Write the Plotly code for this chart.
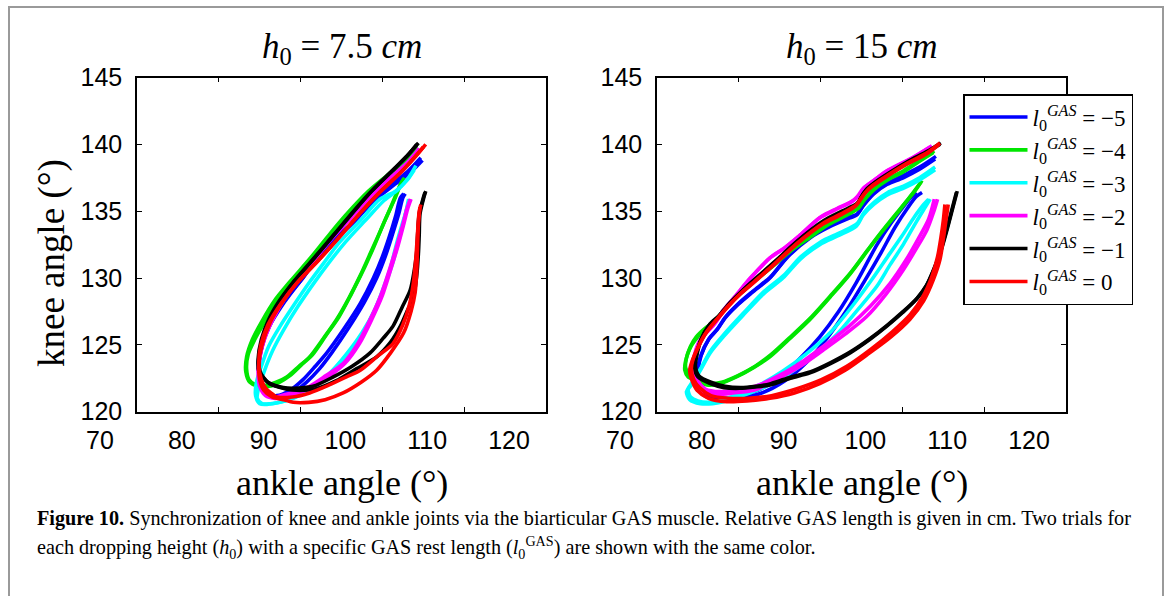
import plotly.graph_objects as go

# ---------------- data (ankle angle, knee angle) ----------------
# h0 = 7.5 cm panel
H75_BLUE_T1 = [(104.9,138.8),(103.6,138.0),(101.5,137.0),(99.0,135.8),(96.5,134.2),(93.2,132.5),(90.3,130.0),(88.0,128.3),(86.4,126.7),(85.4,125.2),(84.9,123.5),(85.0,122.2),(85.6,121.4),(87.1,121.2),(88.7,121.6),(90.3,122.4),(91.8,123.4),(93.2,124.4),(95.3,126.2),(97.3,128.1),(98.9,130.0),(100.0,131.6),(100.8,133.0),(101.6,134.6),(102.2,136.0),(102.6,136.3)]
H75_BLUE_T2 = [(104.7,139.0),(103.3,138.1),(101.2,137.0),(98.7,135.7),(96.2,134.0),(93.0,132.2),(90.0,129.8),(87.8,128.0),(86.2,126.4),(85.3,124.9),(84.9,123.3),(85.2,122.0),(85.9,121.3),(87.4,121.1),(89.0,121.4),(90.7,122.2),(92.3,123.2),(93.8,124.4),(95.8,126.2),(97.8,128.2),(99.3,130.0),(100.4,131.7),(101.2,133.2),(102.0,134.8),(102.5,136.0),(102.8,136.3)]
H75_GREEN_T1 = [(104.4,139.7),(103.0,138.8),(101.0,137.7),(98.5,136.4),(96.0,134.8),(94.0,133.3),(91.5,131.3),(89.1,129.7),(87.1,128.2),(85.6,126.7),(84.4,125.4),(83.6,124.3),(83.4,123.2),(83.7,122.4),(84.6,122.0),(85.9,122.0),(87.0,122.2),(88.3,122.6),(89.8,123.4),(91.1,124.1),(92.8,125.5),(94.4,126.9),(95.9,128.5),(97.3,130.2),(98.7,132.1),(100.1,134.0),(101.3,135.7),(102.2,137.0),(102.6,137.4)]
H75_GREEN_T2 = [(104.2,139.9),(102.8,138.9),(100.8,137.8),(98.3,136.5),(95.8,134.9),(93.7,133.4),(91.2,131.5),(88.8,129.8),(86.8,128.3),(85.3,126.8),(84.1,125.4),(83.4,124.1),(83.3,123.0),(83.8,122.2),(84.9,121.9),(86.2,121.9),(87.4,122.2),(88.7,122.7),(90.1,123.5),(91.5,124.3),(93.1,125.7),(94.7,127.1),(96.2,128.8),(97.6,130.5),(99.0,132.4),(100.3,134.3),(101.5,135.9),(102.3,137.1),(102.7,137.5)]
H75_CYAN_T1 = [(103.9,138.1),(103.0,137.3),(101.6,136.5),(99.7,135.9),(97.3,134.3),(94.8,132.7),(92.8,131.1),(91.1,129.7),(89.2,128.0),(87.5,126.4),(86.1,124.9),(85.2,123.4),(84.6,122.2),(84.5,121.2),(85.0,120.6),(85.9,120.55),(87.5,120.7),(89.1,121.0),(91.2,121.7),(93.2,122.6),(95.3,124.0),(97.3,125.6),(99.0,127.5),(100.1,129.2),(101.0,130.8),(101.7,132.5),(102.4,134.0),(103.0,135.2),(103.3,135.9)]
H75_CYAN_T2 = [(104.1,138.4),(103.2,137.5),(101.9,136.6),(100.2,135.8),(97.9,134.3),(95.5,132.7),(93.4,131.1),(91.6,129.6),(89.7,127.9),(88.0,126.2),(86.6,124.6),(85.6,123.1),(84.9,121.8),(84.7,121.0),(85.3,120.6),(86.3,120.6),(88.0,120.8),(89.7,121.2),(91.7,121.9),(93.6,122.9),(95.6,124.3),(97.5,125.9),(99.2,127.8),(100.4,129.6),(101.3,131.2),(102.0,132.8),(102.6,134.2),(103.0,135.3),(103.2,135.9)]
H75_MAGENTA_T1 = [(104.5,139.7),(103.2,138.7),(101.0,137.5),(98.6,136.1),(96.0,134.4),(93.6,132.8),(91.2,131.0),(89.0,129.3),(87.3,127.7),(86.0,126.1),(85.2,124.6),(84.9,123.2),(85.1,122.0),(85.8,121.3),(87.0,121.1),(87.9,121.25),(89.5,121.5),(91.1,121.9),(93.1,122.7),(95.2,123.6),(97.0,125.1),(98.5,126.9),(99.8,128.7),(100.8,130.5),(101.7,132.3),(102.5,134.0),(103.0,135.2),(103.4,135.9)]
H75_MAGENTA_T2 = [(104.3,139.5),(103.0,138.6),(100.8,137.4),(98.4,136.0),(95.8,134.3),(93.4,132.7),(91.0,130.9),(88.8,129.2),(87.1,127.6),(85.8,126.0),(85.0,124.5),(84.8,123.1),(85.0,121.9),(85.7,121.2),(86.9,121.0),(88.0,121.1),(89.7,121.4),(91.4,121.8),(93.4,122.6),(95.4,123.6),(97.2,125.1),(98.7,126.9),(100.0,128.7),(101.0,130.6),(101.9,132.4),(102.6,134.0),(103.1,135.2),(103.5,135.9)]
H75_BLACK_T1 = [(104.2,140.0),(103.0,139.1),(101.2,138.0),(98.5,136.4),(96.2,134.8),(94.0,133.2),(91.5,131.4),(89.1,129.7),(87.4,128.3),(86.1,126.9),(85.2,125.4),(84.8,123.9),(84.9,123.0),(85.4,122.6),(86.0,122.2),(86.7,122.0),(87.9,121.8),(89.1,121.75),(91.5,121.9),(94.0,122.6),(96.3,123.4),(98.5,124.4),(100.1,125.5),(101.3,126.4),(102.4,127.8),(103.4,129.1),(103.9,130.6),(104.2,132.0),(104.3,133.2),(104.5,134.8),(105.0,136.0),(105.2,136.4)]
H75_BLACK_T2 = [(104.4,140.1),(103.1,139.2),(101.3,138.1),(98.7,136.5),(96.4,134.9),(94.2,133.3),(91.7,131.5),(89.3,129.8),(87.6,128.4),(86.3,127.0),(85.4,125.5),(84.9,124.0),(85.0,123.1),(85.5,122.5),(86.2,122.1),(87.0,121.9),(88.2,121.7),(89.5,121.6),(91.8,121.7),(94.3,122.3),(96.8,123.2),(99.3,124.1),(101.0,125.2),(102.2,126.4),(103.0,127.5),(103.8,128.6),(104.2,130.2),(104.4,131.8),(104.5,133.2),(104.6,134.8),(105.1,136.1),(105.3,136.5)]
H75_RED_T1 = [(105.3,140.0),(104.2,139.2),(102.4,138.0),(99.8,136.5),(97.2,134.8),(94.8,133.1),(92.3,131.4),(89.8,129.8),(87.9,128.3),(86.3,126.7),(85.3,125.0),(84.9,123.6),(85.0,122.4),(85.5,121.6),(86.5,121.1),(87.9,120.9),(89.1,120.7),(91.0,120.7),(93.0,120.9),(95.2,121.4),(97.4,122.2),(99.3,123.1),(101.0,124.4),(102.6,125.9),(103.5,127.5),(104.0,128.9),(104.2,130.6),(104.3,132.3),(104.4,134.0),(104.6,135.3)]
H75_RED_T2 = [(105.0,139.8),(103.9,139.0),(102.1,137.8),(99.5,136.3),(96.9,134.6),(94.5,132.9),(92.0,131.2),(89.5,129.6),(87.6,128.1),(86.0,126.5),(85.1,124.9),(84.9,123.5),(85.2,122.4),(85.8,121.7),(86.6,121.3),(87.1,121.1),(89.0,121.1),(91.1,121.4),(93.5,122.0),(95.6,122.6),(97.3,123.1),(99.5,124.2),(101.3,125.1),(102.5,126.5),(103.3,128.0),(103.8,129.7),(104.1,131.6),(104.3,133.4),(104.5,135.0),(104.7,135.5)]

# h0 = 15 cm panel
H15_BLUE_T1 = [(104.0,138.9),(102.0,138.1),(100.1,137.5),(98.1,137.0),(96.5,136.3),(95.2,135.4),(94.4,134.7),(93.6,134.5),(91.0,133.8),(88.7,133.0),(86.0,131.6),(83.8,130.0),(81.6,128.9),(79.7,127.9),(78.3,127.0),(77.3,126.1),(76.3,125.4),(75.3,124.1),(74.9,122.9),(74.9,122.1),(75.5,121.5),(76.5,121.1),(78.0,121.0),(79.7,121.1),(82.3,121.6),(85.0,122.6),(87.5,124.0),(89.9,125.6),(92.2,127.5),(94.4,129.7),(96.9,132.5),(98.6,134.1),(100.2,135.4),(101.0,136.0),(101.7,136.4)]
H15_BLUE_T2 = [(104.1,139.1),(102.1,138.3),(100.2,137.7),(98.2,137.1),(96.6,136.4),(95.3,135.5),(94.5,134.8),(93.7,134.6),(91.1,133.9),(88.8,133.1),(86.1,131.7),(83.9,130.1),(81.7,129.0),(79.8,128.0),(78.4,127.1),(77.4,126.2),(76.4,125.5),(75.4,124.2),(75.0,123.0),(75.0,122.0),(75.6,121.3),(76.7,121.0),(78.3,120.9),(80.0,121.0),(82.8,121.4),(85.6,122.3),(88.3,123.7),(90.8,125.5),(93.2,127.6),(95.4,129.8),(97.4,131.9),(99.1,133.8),(100.7,135.3),(101.7,136.1),(102.4,136.4)]
H15_GREEN_T1 = [(103.8,139.4),(102.0,138.7),(100.0,137.9),(98.1,137.3),(96.5,136.6),(95.3,135.8),(94.6,135.2),(93.5,134.8),(91.0,134.0),(88.6,133.0),(86.3,132.0),(84.0,130.8),(81.8,129.7),(79.8,128.6),(78.3,127.7),(77.0,126.7),(75.7,126.0),(74.6,125.3),(74.0,124.7),(73.5,123.8),(73.4,123.1),(73.8,122.6),(75.0,122.3),(76.1,122.0),(77.7,122.1),(79.7,122.6),(81.8,123.3),(83.8,124.1),(86.3,125.5),(88.7,126.9),(91.2,128.6),(93.6,130.3),(95.8,132.1),(97.7,133.6),(99.7,135.1),(101.2,136.3),(102.3,137.2)]
H15_GREEN_T2 = [(103.9,139.5),(102.1,138.8),(100.1,138.0),(98.2,137.4),(96.6,136.7),(95.4,135.9),(94.7,135.3),(93.6,134.9),(91.1,134.1),(88.7,133.1),(86.4,132.1),(84.1,130.9),(81.9,129.8),(79.9,128.7),(78.4,127.8),(77.1,126.8),(75.8,126.2),(74.8,125.6),(74.1,124.9),(73.6,124.0),(73.5,123.3),(74.0,122.7),(75.1,122.4),(76.3,122.1),(77.9,122.2),(79.9,122.7),(82.0,123.4),(84.0,124.3),(86.5,125.7),(88.9,127.1),(91.4,128.8),(93.8,130.5),(96.0,132.3),(97.9,133.8),(99.9,135.3),(101.4,136.4),(102.4,137.3)]
H15_CYAN_T1 = [(104.0,138.1),(102.0,137.3),(100.1,136.7),(98.1,136.2),(96.5,135.5),(95.2,134.7),(94.4,133.9),(92.3,133.2),(89.9,132.5),(87.5,131.4),(85.4,130.0),(83.0,128.8),(80.5,127.2),(78.1,125.6),(76.5,124.4),(75.3,123.1),(74.2,122.0),(73.6,121.5),(74.0,120.9),(75.3,120.6),(76.8,120.6),(78.1,120.75),(80.5,121.2),(82.6,121.7),(85.5,122.6),(88.5,123.9),(92.0,125.8),(94.5,127.6),(96.9,129.4),(98.5,131.0),(100.1,132.5),(101.7,134.2),(102.8,135.3),(103.4,135.9)]
H15_CYAN_T2 = [(104.0,138.3),(102.1,137.5),(100.2,136.9),(98.2,136.4),(96.6,135.7),(95.3,134.9),(94.5,134.1),(92.4,133.4),(90.0,132.7),(87.6,131.6),(85.5,130.2),(83.1,129.0),(80.6,127.4),(78.2,125.8),(76.6,124.6),(75.4,123.3),(74.3,122.2),(73.8,121.7),(74.1,121.1),(75.0,120.8),(76.5,120.7),(78.0,120.9),(80.3,121.4),(82.5,122.0),(85.3,123.0),(88.2,124.3),(91.3,126.0),(94.0,128.0),(96.4,130.0),(98.2,131.6),(99.9,133.1),(101.5,134.6),(102.6,135.5),(103.2,135.9)]
H15_MAGENTA_T1 = [(103.4,139.8),(101.0,138.9),(98.1,138.0),(96.3,137.2),(95.2,136.7),(94.5,136.1),(93.8,135.7),(91.8,135.1),(89.9,134.5),(87.1,133.0),(85.5,132.2),(83.8,131.5),(81.4,130.0),(79.5,128.6),(78.1,127.6),(76.9,126.5),(75.3,125.4),(74.6,124.3),(74.4,123.1),(74.8,122.2),(75.7,121.5),(77.5,121.3),(79.3,121.4),(81.8,121.6),(84.6,122.4),(87.5,123.4),(90.3,124.6),(93.0,125.8),(95.6,127.1),(98.0,128.8),(100.1,130.6),(101.7,132.2),(103.0,133.6),(103.8,134.9),(104.3,135.9)]
H15_MAGENTA_T2 = [(103.6,139.9),(101.2,139.0),(98.3,138.1),(96.5,137.3),(95.4,136.8),(94.7,136.2),(94.0,135.8),(92.0,135.2),(90.1,134.6),(87.3,133.1),(85.7,132.3),(84.0,131.6),(81.6,130.1),(79.7,128.7),(78.3,127.7),(77.1,126.6),(75.5,125.5),(74.8,124.4),(74.6,123.2),(75.0,122.3),(75.9,121.7),(77.7,121.5),(79.5,121.6),(82.0,121.9),(84.9,122.7),(87.9,123.8),(90.8,125.1),(93.5,126.4),(96.1,127.9),(98.5,129.6),(100.5,131.4),(102.0,133.0),(103.2,134.4),(103.9,135.9)]
H15_BLACK_T1 = [(104.6,140.0),(103.0,139.4),(100.5,138.6),(98.1,137.7),(96.4,137.0),(95.6,136.6),(95.0,136.1),(94.4,135.5),(92.5,134.9),(90.3,134.2),(87.1,132.7),(84.6,131.3),(82.2,130.0),(80.4,129.0),(78.9,128.1),(77.5,127.1),(76.3,126.4),(75.3,125.3),(74.8,124.2),(74.6,123.3),(75.0,122.6),(76.5,122.1),(78.2,121.8),(80.1,121.75),(82.0,121.85),(83.8,122.0),(86.3,122.5),(88.7,122.9),(91.2,123.6),(93.6,124.4),(96.0,125.4),(98.1,126.4),(100.0,127.4),(101.7,128.4),(102.9,129.4),(103.8,130.6),(104.6,131.9),(105.4,133.6),(106.0,135.0),(106.6,136.4)]
H15_BLACK_T2 = [(104.7,140.1),(103.1,139.5),(100.6,138.7),(98.2,137.8),(96.5,137.1),(95.7,136.7),(95.1,136.2),(94.5,135.6),(92.6,135.0),(90.4,134.3),(87.2,132.8),(84.7,131.4),(82.3,130.1),(80.5,129.1),(79.0,128.2),(77.6,127.2),(76.4,126.5),(75.4,125.4),(74.9,124.3),(74.7,123.4),(75.1,122.7),(76.6,122.2),(78.3,121.9),(80.2,121.8),(82.1,121.9),(83.9,122.1),(86.4,122.6),(88.8,123.0),(91.3,123.7),(93.7,124.5),(96.1,125.5),(98.2,126.5),(100.1,127.5),(101.8,128.5),(103.0,129.5),(103.9,130.7),(104.7,132.0),(105.5,133.7),(106.1,135.1),(106.7,136.5)]
H15_RED_T1 = [(104.5,140.0),(103.0,139.3),(100.5,138.5),(98.1,137.6),(96.4,136.9),(95.5,136.4),(94.9,135.9),(94.3,135.4),(92.4,134.7),(90.2,134.0),(87.0,132.5),(84.5,131.1),(82.1,129.8),(80.2,128.8),(78.6,127.8),(77.2,126.8),(76.0,125.9),(75.0,124.8),(74.3,123.8),(74.0,123.1),(74.3,122.3),(74.9,121.6),(76.3,121.0),(78.5,120.75),(81.0,120.8),(83.8,121.0),(86.8,121.4),(89.9,122.1),(93.0,123.1),(96.0,124.4),(98.6,125.6),(100.9,126.9),(102.6,128.3),(103.8,129.9),(104.6,131.4),(105.0,132.9),(105.3,134.2),(105.6,135.5)]
H15_RED_T2 = [(104.6,140.1),(103.1,139.4),(100.6,138.6),(98.2,137.7),(96.5,137.0),(95.6,136.5),(95.0,136.0),(94.4,135.5),(92.5,134.8),(90.3,134.1),(87.1,132.6),(84.6,131.2),(82.2,129.9),(80.3,128.9),(78.7,127.9),(77.3,126.9),(76.1,126.0),(75.1,124.9),(74.4,123.9),(74.2,123.2),(74.5,122.4),(75.2,121.8),(76.6,121.2),(78.7,121.0),(81.2,121.0),(84.0,121.2),(87.0,121.7),(90.1,122.4),(93.2,123.4),(96.2,124.7),(98.8,126.0),(101.0,127.3),(102.5,128.6),(103.6,130.1),(104.3,131.6),(104.7,133.0),(105.0,134.3),(105.2,135.5)]

ANKLE_TICKS = [70, 80, 90, 100, 110, 120]
KNEE_TICKS = [120, 125, 130, 135, 140, 145]
GAS_LEVELS = ["\u22125", "\u22124", "\u22123", "\u22122", "\u22121", "0"]
PANEL_TITLES = ["<i>h</i><sub>0</sub> = 7.5 <i>cm</i>", "<i>h</i><sub>0</sub> = 15 <i>cm</i>"]

PANEL_75 = [[H75_BLUE_T1, H75_BLUE_T2], [H75_GREEN_T1, H75_GREEN_T2], [H75_CYAN_T1, H75_CYAN_T2],
            [H75_MAGENTA_T1, H75_MAGENTA_T2], [H75_BLACK_T1, H75_BLACK_T2], [H75_RED_T1, H75_RED_T2]]
PANEL_15 = [[H15_BLUE_T1, H15_BLUE_T2], [H15_GREEN_T1, H15_GREEN_T2], [H15_CYAN_T1, H15_CYAN_T2],
            [H15_MAGENTA_T1, H15_MAGENTA_T2], [H15_BLACK_T1, H15_BLACK_T2], [H15_RED_T1, H15_RED_T2]]

COLORS = ["#0000FF", "#00E600", "#00FFFF", "#FF00FF", "#000000", "#FF0000"]

# ---------------- layout geometry (pixels) ----------------
W, H = 1171, 596
def px_x(p): return p / W
def px_y(p): return 1 - p / H

SERIF = "Liberation Serif, Times New Roman, serif"
SANS = "Liberation Sans, Arial, sans-serif"

fig = go.Figure()

for panel_idx, panel in enumerate([PANEL_75, PANEL_15]):
    xa = "x" if panel_idx == 0 else "x2"
    ya = "y" if panel_idx == 0 else "y2"
    for ci, trials in enumerate(panel):
        for ti, pts in enumerate(trials):
            fig.add_trace(go.Scatter(
                x=[p[0] for p in pts], y=[p[1] for p in pts],
                mode="lines", xaxis=xa, yaxis=ya,
                line=dict(color=COLORS[ci], width=3.6, shape="spline", smoothing=0.8),
                name="<i>l</i><sub>0</sub><sup><i>GAS</i></sup> = " + GAS_LEVELS[ci],
                legendgroup=str(ci),
                showlegend=(panel_idx == 1 and ti == 0),
                hoverinfo="skip",
            ))

axis_common = dict(
    showgrid=False, zeroline=False, showline=True, linecolor="black", linewidth=1.5,
    mirror="allticks", ticks="inside", ticklen=5, tickwidth=1.3, tickcolor="black",
    tickfont=dict(family=SANS, size=25, color="black"),
)
xdom1 = [px_x(137), px_x(546)]
xdom2 = [px_x(657), px_x(1066)]
ydom = [px_y(411.7), px_y(77.5)]

fig.update_layout(
    width=W, height=H,
    margin=dict(l=0, r=0, t=0, b=0, autoexpand=False),
    paper_bgcolor="white", plot_bgcolor="white",
    xaxis=dict(domain=xdom1, range=[70, 120], tickvals=ANKLE_TICKS, anchor="y",
               ticklabelshift=-37, ticklabelstandoff=6, **axis_common),
    yaxis=dict(domain=ydom, range=[120, 145], tickvals=KNEE_TICKS, anchor="x",
               ticklabelstandoff=8, **axis_common),
    xaxis2=dict(domain=xdom2, range=[70, 120], tickvals=ANKLE_TICKS, anchor="y2",
                ticklabelshift=-37, ticklabelstandoff=6, **axis_common),
    yaxis2=dict(domain=ydom, range=[120, 145], tickvals=KNEE_TICKS, anchor="x2",
                ticklabelstandoff=8, **axis_common),
    legend=dict(x=px_x(963), y=px_y(94), xanchor="left", yanchor="top",
                bgcolor="white", bordercolor="black", borderwidth=1.5,
                font=dict(family=SERIF, size=23, color="black"),
                itemwidth=58, tracegroupgap=0),
    showlegend=True,
)

annotations = []
for cx, title in zip([341.5, 861.5], PANEL_TITLES):
    annotations.append(dict(x=px_x(cx), y=px_y(48), xref="paper", yref="paper",
                            text=title, showarrow=False, xanchor="center", yanchor="middle",
                            font=dict(family=SERIF, size=35, color="black")))
    annotations.append(dict(x=px_x(cx), y=px_y(483), xref="paper", yref="paper",
                            text="ankle angle (\u00b0)", showarrow=False, xanchor="center", yanchor="middle",
                            font=dict(family=SERIF, size=36, color="black")))
annotations.append(dict(x=px_x(52), y=px_y(263), xref="paper", yref="paper",
                        text="knee angle (\u00b0)", showarrow=False, textangle=-90,
                        xanchor="center", yanchor="middle",
                        font=dict(family=SERIF, size=37, color="black")))
CAPTION_1 = ("<b>Figure 10.</b> Synchronization of knee and ankle joints via the biarticular GAS muscle. "
             "Relative GAS length is given in cm. Two trials for")
CAPTION_2 = ("each dropping height (<i>h</i><sub>0</sub>) with a specific GAS rest length "
             "(<i>l</i><sub>0</sub><sup>GAS</sup>) are shown with the same color.")
annotations.append(dict(x=px_x(35), y=px_y(518), xref="paper", yref="paper", text=CAPTION_1,
                        showarrow=False, xanchor="left", yanchor="middle",
                        font=dict(family=SERIF, size=20.2, color="black")))
annotations.append(dict(x=px_x(35), y=px_y(547), xref="paper", yref="paper", text=CAPTION_2,
                        showarrow=False, xanchor="left", yanchor="middle",
                        font=dict(family=SERIF, size=20.2, color="black")))
fig.update_layout(annotations=annotations)

# outer frame of the figure panel
fig.add_shape(type="rect", xref="paper", yref="paper",
              x0=px_x(9), x1=px_x(1163), y0=-0.1, y1=px_y(7),
              line=dict(color="#9a9a9a", width=2), fillcolor="rgba(0,0,0,0)", layer="below")

fig.write_html("out.html")
